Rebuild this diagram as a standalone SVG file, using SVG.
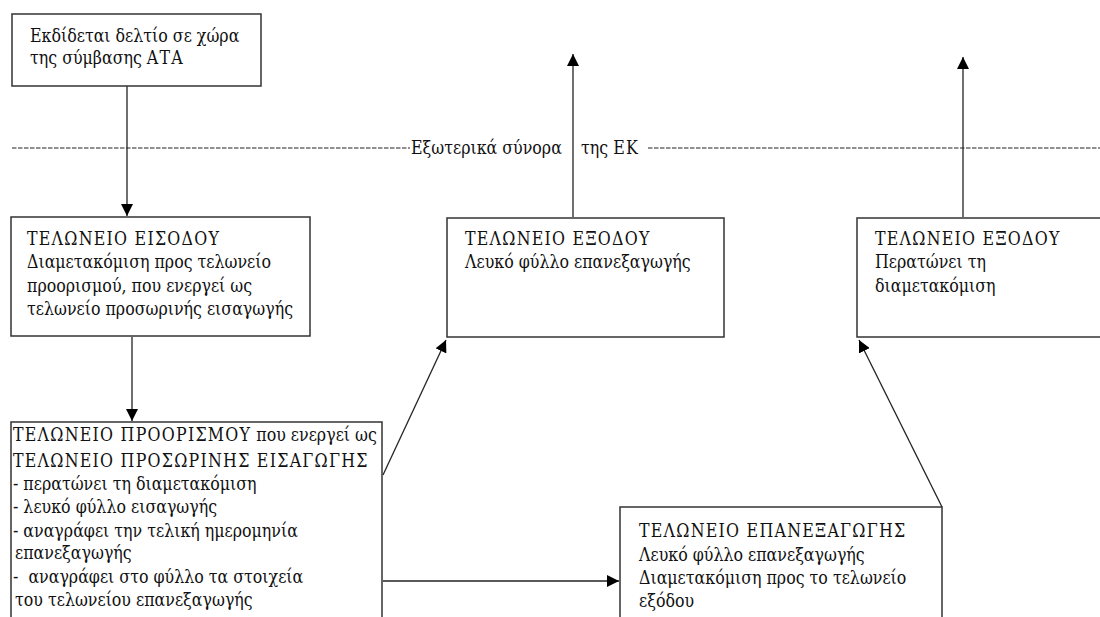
<svg xmlns="http://www.w3.org/2000/svg" width="1100" height="617" viewBox="0 0 1100 617">
<style>
.box{fill:#fff;stroke:#333;stroke-width:1.5}
.t{font-family:"DejaVu Serif Condensed","DejaVu Serif","Liberation Serif",serif;font-size:17.6px;fill:#111}
.k{letter-spacing:1.25px}
.c{stroke:#222;stroke-width:1.3;fill:none}
.d{stroke:#222;stroke-width:1.1;stroke-dasharray:4.5 1.5}
</style>
<defs>
<marker id="ah" markerWidth="12" markerHeight="12" refX="12" refY="6" orient="auto" markerUnits="userSpaceOnUse">
<path d="M0,0 L12,6 L0,12 Z" fill="#000"/>
</marker>
</defs>
<rect width="1100" height="617" fill="#fff"/>
<g id="border">
<line class="d" x1="12" y1="148" x2="410" y2="148"/>
<line class="d" x1="648" y1="148" x2="1100" y2="148"/>
<text class="t" x="411" y="154">Εξωτερικά σύνορα</text>
<text class="t" x="581" y="154">της <tspan class="k">ΕΚ</tspan></text>
</g>
<g id="connectors">
<line class="c" x1="127" y1="86" x2="127" y2="216" marker-end="url(#ah)"/>
<line class="c" x1="132" y1="337" x2="132" y2="421" marker-end="url(#ah)"/>
<line class="c" x1="573" y1="217" x2="573" y2="54" marker-end="url(#ah)"/>
<line class="c" x1="963" y1="217" x2="963" y2="57" marker-end="url(#ah)"/>
<line class="c" x1="383" y1="475" x2="446" y2="340" marker-end="url(#ah)"/>
<line class="c" x1="383" y1="581" x2="619" y2="581" marker-end="url(#ah)"/>
<line class="c" x1="942" y1="507" x2="859" y2="340" marker-end="url(#ah)"/>
</g>
<g id="n1">
<rect class="box" x="12" y="14" width="249" height="72"/>
<text class="t" x="30" y="42">Εκδίδεται δελτίο σε χώρα</text>
<text class="t" x="30" y="64">της σύμβασης <tspan class="k">ΑΤΑ</tspan></text>
</g>
<g id="n2">
<rect class="box" x="11" y="217" width="299" height="119"/>
<text class="t k" x="27" y="245">ΤΕΛΩΝΕΙΟ ΕΙΣΟΔΟΥ</text>
<text class="t" x="27" y="268">Διαμετακόμιση προς τελωνείο</text>
<text class="t" x="27" y="292">προορισμού, που ενεργεί ως</text>
<text class="t" x="27" y="315">τελωνείο προσωρινής εισαγωγής</text>
</g>
<g id="n3">
<rect class="box" x="11" y="422" width="371" height="210"/>
<text class="t" x="13" y="441"><tspan class="k">ΤΕΛΩΝΕΙΟ ΠΡΟΟΡΙΣΜΟΥ</tspan> που ενεργεί ως</text>
<text class="t k" x="13" y="467">ΤΕΛΩΝΕΙΟ ΠΡΟΣΩΡΙΝΗΣ ΕΙΣΑΓΩΓΗΣ</text>
<text class="t" x="13" y="490">- περατώνει τη διαμετακόμιση</text>
<text class="t" x="13" y="513">- λευκό φύλλο εισαγωγής</text>
<text class="t" x="13" y="537">- αναγράφει την τελική ημερομηνία</text>
<text class="t" x="15" y="559">επανεξαγωγής</text>
<text class="t" x="13" y="583" xml:space="preserve">-  αναγράφει στο φύλλο τα στοιχεία</text>
<text class="t" x="15" y="606">του τελωνείου επανεξαγωγής</text>
</g>
<g id="n4">
<rect class="box" x="447" y="218" width="277" height="119"/>
<text class="t k" x="465" y="245">ΤΕΛΩΝΕΙΟ ΕΞΟΔΟΥ</text>
<text class="t" x="465" y="268">Λευκό φύλλο επανεξαγωγής</text>
</g>
<g id="n5">
<rect class="box" x="857" y="218" width="260" height="119"/>
<text class="t k" x="875" y="245">ΤΕΛΩΝΕΙΟ ΕΞΟΔΟΥ</text>
<text class="t" x="875" y="268">Περατώνει τη</text>
<text class="t" x="875" y="292">διαμετακόμιση</text>
</g>
<g id="n6">
<rect class="box" x="620" y="507" width="322" height="130"/>
<text class="t k" x="639" y="537">ΤΕΛΩΝΕΙΟ ΕΠΑΝΕΞΑΓΩΓΗΣ</text>
<text class="t" x="639" y="561">Λευκό φύλλο επανεξαγωγής</text>
<text class="t" x="639" y="584">Διαμετακόμιση προς το τελωνείο</text>
<text class="t" x="639" y="607">εξόδου</text>
</g>
</svg>
